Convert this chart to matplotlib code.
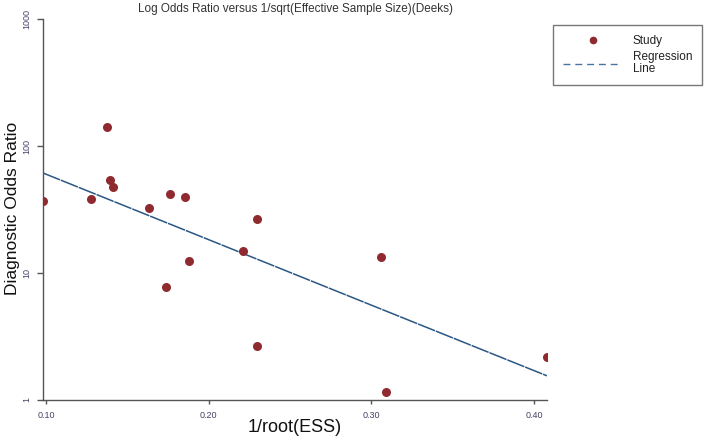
import matplotlib
matplotlib.use("Agg")
import matplotlib.pyplot as plt
from matplotlib.lines import Line2D

plt.rcParams['font.family'] = ['Liberation Sans', 'DejaVu Sans']

# Study points: 1/root(ESS) and diagnostic odds ratio
ess_inv = [0.0982, 0.1277, 0.1375, 0.1393, 0.1412, 0.1633, 0.1762, 0.1855,
           0.2297, 0.2211, 0.1879, 0.1738, 0.2297, 0.3059, 0.3090, 0.4080]
dor = [36.9, 38.3, 141.0, 54.0, 47.5, 32.5, 41.9, 39.7,
       26.6, 14.9, 12.4, 7.76, 2.66, 13.4, 1.16, 2.18]

# Regression line endpoints (as drawn)
reg_x = [0.098, 0.408]
reg_y = [61.3, 1.55]

x_ticks = [0.10, 0.20, 0.30, 0.40]
x_tick_labels = ["0.10", "0.20", "0.30", "0.40"]
y_ticks = [1, 10, 100, 1000]
y_tick_labels = ["1", "10", "100", "1000"]

title = "Log Odds Ratio versus 1/sqrt(Effective Sample Size)(Deeks)"
xlabel = "1/root(ESS)"
ylabel = "Diagnostic Odds Ratio"

W, H = 717, 442
fig = plt.figure(figsize=(W / 100, H / 100), dpi=100)
fig.patch.set_facecolor('white')

ax = fig.add_axes([43 / W, 1 - 400 / H, (547 - 43) / W, (400 - 19) / H])
ax.set_yscale('log')
ax.set_xlim(0.098, 0.408)
ax.set_ylim(1, 1000)

line_color = '#2a5783'
pt_color = '#8f2b30'
axis_color = '#555555'

ax.plot(reg_x, reg_y, color=line_color, lw=1.1, dashes=(12, 0.6), zorder=2)
ax.plot(ess_inv, dor, 'o', color=pt_color, markersize=6.5, markeredgewidth=0, zorder=3)

for s in ['top', 'right']:
    ax.spines[s].set_visible(False)
for s in ['left', 'bottom']:
    ax.spines[s].set_color(axis_color)
    ax.spines[s].set_linewidth(1.0)

ax.set_xticks(x_ticks)
ax.set_xticklabels(x_tick_labels)
ax.set_yticks(y_ticks)
ax.set_yticklabels(y_tick_labels, rotation=90, va='center')
ax.minorticks_off()
ax.tick_params(axis='x', direction='out', length=3.2, width=1, color=axis_color,
               labelsize=6.5, labelcolor='#4a3f66', pad=5)
ax.tick_params(axis='y', direction='out', length=4, width=1, color=axis_color,
               labelsize=6.5, labelcolor='#4a3f66', pad=4.5)

fig.text(295 / W, 1 - 9 / H, title, ha='center', va='center', fontsize=8.5, color='#333333')
fig.text(295 / W, 1 - 428 / H, xlabel, ha='center', va='center', fontsize=13, color='#111111')
fig.text(13 / W, 1 - 208 / H, ylabel, ha='center', va='center', fontsize=12.5,
         rotation=90, color='#111111')

handles = [
    Line2D([], [], marker='o', linestyle='none', color=pt_color, markersize=5.5,
           markeredgewidth=0),
    Line2D([], [], color='#4a74a0', lw=1, dashes=(5, 3.5)),
]
leg = fig.legend(handles, ["Study", "Regression\nLine"], loc='upper left',
                 bbox_to_anchor=(553 / W, 1 - 25 / H), fontsize=8.5,
                 frameon=True, fancybox=False, borderpad=0.85, labelspacing=0.35,
                 handlelength=5.0, handletextpad=0.9, borderaxespad=0)
leg.get_frame().set_edgecolor(axis_color)
leg.get_frame().set_linewidth(1.0)
for t in leg.get_texts():
    t.set_linespacing(1.0)
    t.set_color('#222222')

fig.savefig('out.png', dpi=100)
